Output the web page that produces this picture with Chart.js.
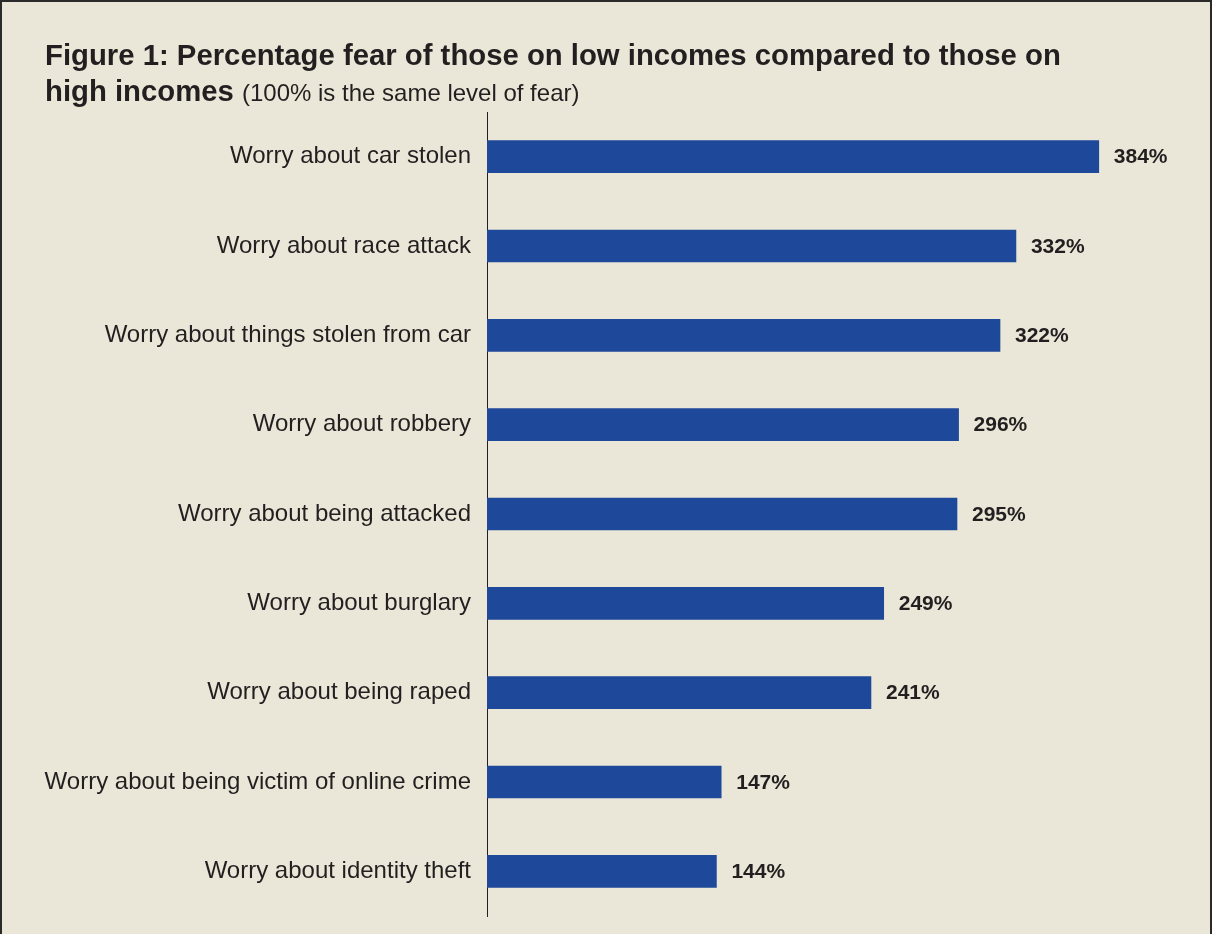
<!DOCTYPE html>
<html>
<head>
<meta charset="utf-8">
<script src="https://cdn.jsdelivr.net/npm/chart.js@4"></script>
<style>
  html, body { margin: 0; padding: 0; }
  body { width: 1212px; height: 934px; overflow: hidden; }
  #frame {
    position: relative; width: 1212px; height: 934px; box-sizing: border-box;
    background: #ebe7d8; border-top: 2px solid #2a2a2a; border-left: 2px solid #2a2a2a; border-right: 2px solid #2a2a2a;
  }
  #title {
    position: absolute; left: 43px; top: 35px; font-family: "Liberation Sans", Arial, sans-serif;
    color: #231f20; font-size: 29.3px; line-height: 36px; font-weight: bold; white-space: nowrap;
  }
  #title .sub { font-weight: normal; font-size: 24px; }
  #chartWrap { position: absolute; left: -2px; top: -2px; width: 1212px; height: 934px; }
</style>
</head>
<body>
<div id="frame">
  <div id="chartWrap"><canvas id="c" width="1212" height="934"></canvas></div>
  <div id="title">Figure 1: Percentage fear of those on low incomes compared to those on<br>high incomes <span class="sub">(100% is the same level of fear)</span></div>
</div>
<script>
const categories = [
  "Worry about car stolen",
  "Worry about race attack",
  "Worry about things stolen from car",
  "Worry about robbery",
  "Worry about being attacked",
  "Worry about burglary",
  "Worry about being raped",
  "Worry about being victim of online crime",
  "Worry about identity theft"
];
const values = [384, 332, 322, 296, 295, 249, 241, 147, 144];
const valueLabels = ["384%", "332%", "322%", "296%", "295%", "249%", "241%", "147%", "144%"];

const valueLabelPlugin = {
  id: 'valueLabels',
  afterDatasetsDraw(chart) {
    const ctx = chart.ctx;
    const meta = chart.getDatasetMeta(0);
    ctx.save();
    ctx.font = 'bold 21px "Liberation Sans", Arial, sans-serif';
    ctx.fillStyle = '#231f20';
    ctx.textAlign = 'left';
    ctx.textBaseline = 'middle';
    meta.data.forEach((bar, i) => {
      ctx.fillText(valueLabels[i], bar.x + 15, bar.y + 1);
    });
    ctx.restore();
  }
};

new Chart(document.getElementById('c'), {
  type: 'bar',
  data: {
    labels: categories,
    datasets: [{
      data: values,
      backgroundColor: '#1e489a',
      borderWidth: 0,
      barThickness: 32
    }]
  },
  options: {
    indexAxis: 'y',
    responsive: false,
    animation: false,
    devicePixelRatio: 1,
    layout: { padding: { top: 112, bottom: 18, right: 24, left: 0 } },
    plugins: { legend: { display: false }, tooltip: { enabled: false }, title: { display: false } },
    scales: {
      x: { display: false, min: 0, max: 440 },
      y: {
        afterFit(scale) { scale.width = 487; scale.paddingTop = 0; scale.paddingBottom = 0; },
        grid: { display: false, drawTicks: false },
        border: { display: true, color: '#231f20', width: 1 },
        ticks: {
          padding: 16,
          color: '#231f20',
          font: { family: '"Liberation Sans", Arial, sans-serif', size: 24 }
        }
      }
    }
  },
  plugins: [valueLabelPlugin]
});
</script>
</body>
</html>
